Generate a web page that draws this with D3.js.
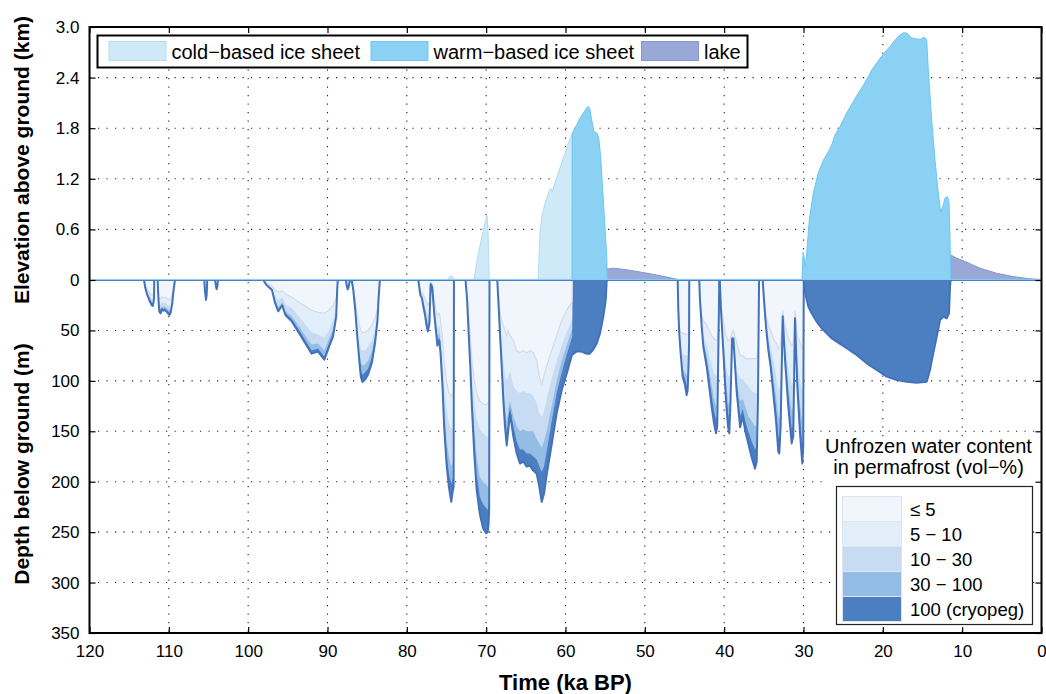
<!DOCTYPE html>
<html>
<head>
<meta charset="utf-8">
<script src="https://cdn.jsdelivr.net/npm/d3@7"></script>
<style>
body{margin:0;background:#fff}
text{font-family:"Liberation Sans",Arial,Helvetica,sans-serif}
</style>
</head>
<body>
<svg id="canvas"></svg>
<script>
let width=1046,height=694

const timeTicks=[120,110,100,90,80,70,60,50,40,30,20,10,0]
const elevTicks=[0,0.6,1.2,1.8,2.4,3.0]
const depthTicks=[50,100,150,200,250,300,350]

const iceNames=["cold\u2212based ice sheet","warm\u2212based ice sheet","lake"]
const iceColors=["#d0e9f8","#8bd1f3","#9aa8d8"]
const iceStrokes=["#b2dbf2","#6fc6ee","#8796cf"]

const waterClasses=["\u2264 5","5 \u2212 10","10 \u2212 30","30 \u2212 100","100 (cryopeg)"]
const waterColors=["#f1f6fd","#e2eef9","#c7dcf2","#94bde5","#4b7fc1"]

// ice elevation above ground, [ka BP, km]
const coldIce=[[74.95,0],[74.6,0.04],[74.4,0.05],[74.2,0.03],[74.05,0],
  [71.55,0],[71.2,0.2],[70.8,0.4],[70.4,0.57],[70.1,0.7],[69.88,0.76],[69.78,0.6],[69.66,0.2],[69.62,0],
  [63.45,0],[63.22,0.55],[63.0,0.75],[62.59,0.91],[62.17,1.03],[61.87,1.09],[61.67,1.05],[61.33,1.15],
  [60.91,1.27],[60.48,1.39],[60.06,1.5],[59.65,1.62],[59.22,1.72],[59.15,1.74],[59.13,0]]
const warmIce=[[59.17,0],[59.15,1.74],[58.59,1.84],[58.17,1.92],[57.76,1.98],[57.33,2.04],[57.13,2.06],
  [56.92,2.02],[56.7,1.9],[56.41,1.76],[56.0,1.74],[55.8,1.68],[55.57,1.46],[55.31,1.07],[55.0,0.59],
  [54.8,0.28],[54.73,0],
  [30.2,0],[30.05,0.33],[29.95,0.28],[29.77,0.16],[29.6,0.32],[29.27,0.71],[28.77,1.03],[28.14,1.27],
  [27.5,1.42],[26.75,1.54],[26.45,1.6],[26.03,1.72],[25.4,1.82],[24.56,1.98],[23.51,2.15],[22.46,2.31],
  [21.71,2.43],[21.4,2.49],[20.36,2.63],[19.1,2.77],[18.05,2.89],[17.42,2.93],[16.99,2.93],[16.36,2.87],
  [15.32,2.85],[14.81,2.88],[14.47,2.85],[14.27,2.49],[13.84,1.9],[13.42,1.42],[13.01,1.03],[12.71,0.81],
  [12.45,0.87],[12.16,0.97],[11.87,0.99],[11.66,0.93],[11.53,0.51],[11.45,0]]
const lake=[[54.85,0],[54.8,0.13],[54.0,0.14],[52.5,0.125],[50.6,0.095],[48.5,0.06],[46.5,0.02],[45.5,0],
  [11.5,0],[11.45,0.3],[11.3,0.29],[10.7,0.26],[9.4,0.21],[7.75,0.14],[5.65,0.08],[3.55,0.04],[1.45,0.015],[0,0.005]]

// permafrost bodies: [ka BP, base of <=5, 5-10, 10-30, 30-100, 100 (m)]
const permafrost=[
 [[113.13,0,0,0,0,0],[113.0,4,5,5.5,6,6.6],[112.79,8,10,11,12,13],[112.47,12,15,17,18.5,19.8],[112.17,15,19,21,23,24.8],
  [112.04,15,19,22,24,25.8],[111.91,13,17,19,20,21.5],[111.86,10,13,15,16,17],[111.84,0,0,0,0,0]],
 [[111.41,0,0,0,0,0],[111.33,11,13,14.5,15.5,16.5],[111.2,18,24,28,30,31.4],[111.03,19,25,29,31,33],[110.9,17,22,26,27.5,29],
  [110.7,18,23,27,29,30.4],[110.49,17,22,26,28,29.7],[110.27,18,24,28,30,31.4],[109.94,20,26,30,32.5,34.7],
  [109.77,19,25,29,31,32.4],[109.57,14,18,21,22,23.1],[109.44,8,10,11.5,12.3,13],[109.23,0,0,0,0,0]],
 [[105.53,0,0,0,0,0],[105.45,7,8.5,9.5,10,10.6],[105.32,12,15,17,18.5,19.8],[105.23,10,12,13.5,14.3,15],[105.16,0,0,0,0,0]],
 [[104.18,0,0,0,0,0],[104.05,4,5,5.5,6,6.6],[103.97,6,7,8,8.6,9.2],[103.89,4,5,5.5,6,6.6],[103.8,0,0,0,0,0]],
 [[98.1,0,0,0,0,0],[97.7,3,4,4.5,4.8,5],[97.0,6,8,9,9.5,10],[96.6,10,16,20,22,23],[96.2,12,20,27,29,31],
  [95.7,11,17,22,24,25],[95.3,14,24,31,33,35],[94.5,17,28,36,39,41],[93.4,23,38,48,52,55],[92.4,28,48,60,65,68],
  [92.0,30,52,64,70,73],[91.2,32,54,63,68,71],[90.4,33,57,70,76,79],[89.8,30,50,58,63,66],[89.3,25,40,49,53,56],
  [88.9,18,28,32,34,36],[88.78,8,9,9.5,9.8,10],[88.7,0,0,0,0,0]],
 [[87.67,0,0,0,0,0],[87.58,3,4,4.5,5,5.7],[87.46,5,6.5,7.5,8.5,9.2],[87.33,4,5,5.5,6,6.6],[87.17,0,0,0,0,0]],
 [[86.95,0,0,0,0,0],[86.75,7,8,9,9.5,10],[86.5,20,25,27,29,30],[86.25,35,45,50,53,56],[86.0,45,62,70,75,79],
  [85.8,50,68,82,90,96],[85.6,52,70,85,94,101],[85.3,52,70,84,92,99],[84.9,50,66,80,88,94],[84.4,45,60,70,77,82],
  [84.0,38,48,55,59,62],[83.7,28,34,37,39,40],[83.55,12,14,15,16,17],[83.4,0,0,0,0,0]],
 [[78.55,0,0,0,0,0],[78.3,10,12,13,14,15],[78.1,12,14,16,17,18],[77.9,15,20,23,25,27],[77.7,18,26,30,33,35],
  [77.5,22,32,39,43,46],[77.35,25,36,43,48,51],[77.15,22,30,37,40,43],[77.0,2,3,3.5,3.8,4],[76.8,4,5,6,6.5,7],
  [76.55,20,26,29,31,33],[76.3,30,40,46,50,53],[76.15,35,48,56,61,65],[75.9,33,45,52,57,60],[75.75,40,55,63,69,73],
  [75.5,58,78,92,100,106],[75.3,80,105,125,137,145],[75.0,100,128,158,172,182],[74.7,112,142,175,192,205],
  [74.4,115,148,185,202,220],[74.25,115,148,182,198,211],[74.1,110,145,178,195,205],[74.06,0,0,0,0,0]],
 [[72.6,0,0,0,0,0],[72.4,15,17,18,19,20],[72.2,35,42,48,51,54],[72.0,55,65,76,81,86],[71.8,80,95,110,118,126],
  [71.5,100,120,145,158,172],[71.2,112,138,175,192,208],[70.8,120,148,195,215,232],[70.4,123,152,200,222,246],
  [70.0,124,155,203,226,251],[69.8,122,156,205,228,250],[69.68,120,155,202,222,240],[69.62,118,152,198,215,225],
  [69.58,0,0,0,0,0]],
 [[68.6,0,0,0,0,0],[68.47,15,17,18,19,20],[68.26,30,40,46,50,53],[68.04,40,60,72,80,86],[67.84,45,80,100,110,119],
  [67.63,50,95,125,135,145],[67.41,55,100,140,152,164],[67.21,50,95,128,140,149],[67.0,55,90,120,126,132],
  [66.58,60,105,135,145,155],[66.15,70,110,145,160,172],[65.74,72,112,150,168,182],[65.32,70,110,148,168,180],
  [64.89,72,112,150,172,185],[64.48,70,112,150,172,184],[64.06,72,115,150,175,189],[63.63,80,122,158,178,192],
  [63.3,95,132,162,185,205],[63.0,104,136,166,190,220],[62.71,95,130,160,185,212],[62.37,85,118,150,170,193],
  [61.74,70,98,125,140,163],[61.11,55,80,100,112,132],[60.48,40,65,80,92,109],[59.85,30,52,65,74,93],
  [59.22,22,40,50,58,75],[59.16,21,39,49,57,74],[59.14,0,0,0,0,74],[58.63,0,0,0,0,71],[58.0,0,0,0,0,71],
  [57.37,0,0,0,0,73],[56.95,0,0,0,0,73],[56.5,0,0,0,0,69],[56.07,0,0,0,0,63],[55.65,0,0,0,0,53],
  [55.23,0,0,0,0,36],[54.93,0,0,0,0,20],[54.8,0,0,0,0,0]],
 [[45.86,0,0,0,0,0],[45.78,25,27,28,29,30],[45.66,45,49,51,52,53],[45.48,52,66,70,71,73],[45.23,53,74,88,92,96],
  [44.94,53,74,92,98,104],[44.73,54,75,95,105,114],[44.6,54,75,93,102,109],[44.47,52,70,76,78,80],
  [44.42,45,55,58,59,60],[44.4,0,0,0,0,0]],
 [[43.14,0,0,0,0,0],[43.05,18,19,19.5,19.8,20],[42.83,35,42,44,45,46],[42.63,40,55,60,63,66],[42.2,45,65,75,80,86],
  [41.88,50,75,90,98,106],[41.57,55,85,105,115,126],[41.28,58,92,118,130,142],[41.03,60,95,125,138,152],
  [40.87,60,95,122,134,145],[40.69,40,44,45,45.5,46],[40.62,0,0,0,0,0]],
 [[40.55,0,0,0,0,0],[40.4,25,28,29,29.5,30],[40.11,40,55,62,66,70],[39.77,55,85,100,110,120],[39.52,60,95,120,132,145],
  [39.35,60,96,125,138,152],[39.2,58,90,108,114,120],[39.0,52,56,57,57.5,58],[38.84,50,55,56,57,58],
  [38.41,62,90,100,106,112],[37.99,75,98,120,135,146],[37.65,75,98,118,128,135],[37.34,78,102,125,140,150],
  [36.96,78,105,135,150,162],[36.53,78,110,140,160,176],[36.11,78,112,145,168,187],[35.9,78,112,145,165,180],
  [35.74,70,100,110,115,120],[35.65,35,38,39,39.5,40],[35.6,0,0,0,0,0]],
 [[35.14,0,0,0,0,0],[34.98,17,18,19,19.5,20],[34.73,35,40,43,45,46],[34.44,45,55,62,66,69],[34.14,50,65,75,81,86],
  [33.81,58,80,95,104,112],[33.47,62,95,115,128,139],[33.18,68,108,135,155,170],[33.05,68,110,138,158,172],
  [32.88,62,100,125,135,145],[32.62,30,33,35,35.5,36],[32.33,45,62,70,75,79],[31.92,58,88,105,116,125],
  [31.49,65,105,130,148,162],[31.29,63,100,125,142,155],[31.07,30,34,36,37,38],[30.78,55,80,92,99,105],
  [30.44,62,100,125,140,152],[30.15,68,110,140,165,182],[30.03,66,106,135,155,165],[29.97,0,0,0,0,0]],
 [[29.96,0,0,0,0,0],[29.9,0,0,0,0,8],[29.69,0,0,0,0,16.5],[29.4,0,0,0,0,26.4],[28.97,0,0,0,0,33],
  [28.34,0,0,0,0,41.3],[27.71,0,0,0,0,47.9],[27.08,0,0,0,0,52.8],[26.45,0,0,0,0,57.8],[25.82,0,0,0,0,61.1],
  [24.56,0,0,0,0,67.7],[23.3,0,0,0,0,74.3],[22.03,0,0,0,0,82.6],[20.77,0,0,0,0,89.2],[19.51,0,0,0,0,95.8],
  [18.25,0,0,0,0,99.1],[16.99,0,0,0,0,100.8],[15.73,0,0,0,0,101.8],[14.47,0,0,0,0,100.8],[14.06,0,0,0,0,89.2],
  [13.64,0,0,0,0,72.7],[13.21,0,0,0,0,56.2],[12.79,0,0,0,0,39.7],[12.38,0,0,0,0,36.4],[11.95,0,0,0,0,38],
  [11.66,0,0,0,0,33],[11.53,0,0,0,0,6.6],[11.45,0,0,0,0,0]]
]

let svg=d3.select('#canvas').attr('width',width).attr('height',height)

let x=d3.scaleLinear().domain([120,0]).range([89.5,1041.5])
let yUp=d3.scaleLinear().domain([0,3]).range([280,27])
let yDown=d3.scaleLinear().domain([0,350]).range([280,633])

// dotted grid
let grid=svg.append('g').attr('stroke','#222').attr('stroke-width',1.1).attr('stroke-dasharray','1.2,7.3')
grid.selectAll('.vg').data(timeTicks.filter(d=>d>0&&d<120)).enter().append('line')
  .attr('x1',d=>x(d)).attr('x2',d=>x(d)).attr('y1',yUp(3)).attr('y2',yDown(350))
grid.selectAll('.hu').data(elevTicks.filter(d=>d>0&&d<3)).enter().append('line')
  .attr('x1',x(120)).attr('x2',x(0)).attr('y1',d=>yUp(d)).attr('y2',d=>yUp(d))
grid.selectAll('.hd').data(depthTicks.filter(d=>d<350)).enter().append('line')
  .attr('x1',x(120)).attr('x2',x(0)).attr('y1',d=>yDown(d)).attr('y2',d=>yDown(d))

// ice sheets and lakes
let iceArea=d3.area().x(d=>x(d[0])).y0(yUp(0)).y1(d=>yUp(d[1]))
;[lake,coldIce,warmIce].forEach((s,i)=>{
  let c=[2,0,1][i]
  svg.append('path').datum(s).attr('d',iceArea).attr('fill',iceColors[c])
    .attr('stroke',iceStrokes[c]).attr('stroke-width',1).attr('stroke-linejoin','round')
})

// permafrost
let pf=svg.append('g')
let band=k=>d3.area().x(d=>x(d[0])).y0(yDown(0)).y1(d=>yDown(d[k+1]))
let edge=k=>d3.line().x(d=>x(d[0])).y(d=>yDown(d[k]))
permafrost.forEach(ev=>{
  for(let k=4;k>=0;k--) pf.append('path').datum(ev).attr('d',band(k)).attr('fill',waterColors[k])
  pf.append('path').datum(ev).attr('d',edge(1)).attr('fill','none').attr('stroke','#d3d9e5').attr('stroke-width',1.1)
  pf.append('path').datum(ev).attr('d',edge(5)).attr('fill','none').attr('stroke','#4372ba')
    .attr('stroke-width',2).attr('stroke-linejoin','round')
})

// ground surface
svg.append('line').attr('x1',x(120)).attr('x2',x(0)).attr('y1',yUp(0)-0.6).attr('y2',yUp(0)-0.6)
  .attr('stroke','#86cdee').attr('stroke-width',1)
svg.append('line').attr('x1',x(120)).attr('x2',x(0)).attr('y1',yUp(0)+0.5).attr('y2',yUp(0)+0.5)
  .attr('stroke','#4a7ec0').attr('stroke-width',1.2)

// ice legend
let lg=svg.append('g')
lg.append('rect').attr('x',97.5).attr('y',35.5).attr('width',650).attr('height',32)
  .attr('fill','#fff').attr('stroke','#000').attr('stroke-width',2)
const iceLegendX=[109,371,641.5]
iceNames.forEach((n,i)=>{
  lg.append('rect').attr('x',iceLegendX[i]).attr('y',41.5).attr('width',57).attr('height',19)
    .attr('fill',iceColors[i]).attr('stroke',iceStrokes[i]).attr('stroke-width',1)
  lg.append('text').attr('x',iceLegendX[i]+62.5).attr('y',58.5).attr('font-size',20).text(n)
})

// unfrozen water legend
let wl=svg.append('g')
wl.append('rect').attr('x',824).attr('y',437).attr('width',214).attr('height',49).attr('fill','#fff')
wl.append('text').attr('x',928.5).attr('y',453).attr('text-anchor','middle').attr('font-size',20).text('Unfrozen water content')
wl.append('text').attr('x',928.5).attr('y',474).attr('text-anchor','middle').attr('font-size',20).text('in permafrost (vol\u2212%)')
wl.append('rect').attr('x',836.5).attr('y',486.5).attr('width',196).attr('height',138)
  .attr('fill','#fff').attr('stroke','#222').attr('stroke-width',1.2)
waterClasses.forEach((n,i)=>{
  wl.append('rect').attr('x',842.5).attr('y',496.5+i*25).attr('width',59).attr('height',25)
    .attr('fill',waterColors[i]).attr('stroke','#dfe5ee').attr('stroke-width',1)
  wl.append('text').attr('x',910).attr('y',496.5+i*25+19).attr('font-size',18.5).text(n)
})

// axes
let styleAxis=g=>{
  g.select('.domain').remove()
  g.selectAll('line').attr('stroke','#000').attr('stroke-width',1.2)
  g.selectAll('text').attr('font-size',17).attr('fill','#000').attr('font-family','"Liberation Sans",Arial,sans-serif')
}
let fmtE=d=>d==0?'0':d3.format('.1f')(d)
svg.append('g').attr('transform',`translate(${x(120)},0)`)
  .call(d3.axisLeft(yUp).tickValues(elevTicks).tickFormat(fmtE).tickSize(-6).tickPadding(10)).call(styleAxis)
svg.append('g').attr('transform',`translate(${x(120)},0)`)
  .call(d3.axisLeft(yDown).tickValues(depthTicks).tickSize(-6).tickPadding(10)).call(styleAxis)
svg.append('g').attr('transform',`translate(${x(0)},0)`)
  .call(d3.axisRight(yUp).tickValues(elevTicks).tickFormat('').tickSize(-6)).call(styleAxis)
svg.append('g').attr('transform',`translate(${x(0)},0)`)
  .call(d3.axisRight(yDown).tickValues(depthTicks).tickFormat('').tickSize(-6)).call(styleAxis)
svg.append('g').attr('transform',`translate(0,${yUp(3)})`)
  .call(d3.axisTop(x).tickValues(timeTicks).tickFormat('').tickSize(-6)).call(styleAxis)
svg.append('g').attr('transform',`translate(0,${yDown(350)})`)
  .call(d3.axisBottom(x).tickValues(timeTicks).tickSize(-6).tickPadding(12)).call(styleAxis)

svg.append('rect').attr('x',x(120)).attr('y',yUp(3)).attr('width',x(0)-x(120)).attr('height',yDown(350)-yUp(3))
  .attr('fill','none').attr('stroke','#000').attr('stroke-width',2)

// titles
svg.append('text').attr('transform','translate(29,160) rotate(-90)').attr('text-anchor','middle')
  .attr('font-size',21).attr('font-weight','bold').text('Elevation above ground (km)')
svg.append('text').attr('transform','translate(29,464) rotate(-90)').attr('text-anchor','middle')
  .attr('font-size',21).attr('font-weight','bold').text('Depth below ground (m)')
svg.append('text').attr('x',565.5).attr('y',690).attr('text-anchor','middle')
  .attr('font-size',22).attr('font-weight','bold').text('Time (ka BP)')
</script>
</body>
</html>
